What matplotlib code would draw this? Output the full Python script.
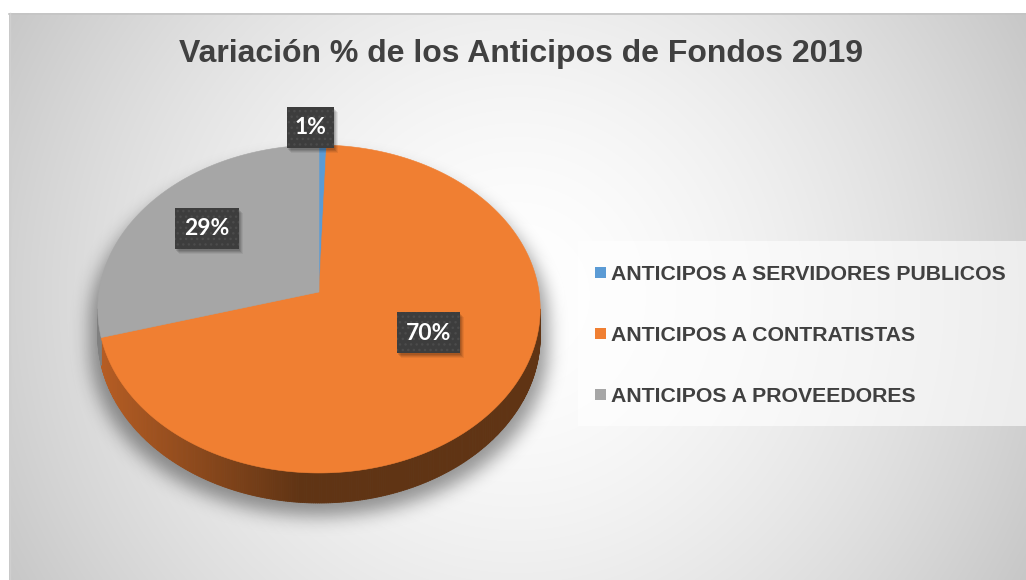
import numpy as np
import matplotlib
matplotlib.use('Agg')
import matplotlib.pyplot as plt
from matplotlib.patches import Polygon, Rectangle
from matplotlib.collections import PolyCollection
from matplotlib.path import Path

# ---------------- data ----------------
categories = ["ANTICIPOS A SERVIDORES PUBLICOS", "ANTICIPOS A CONTRATISTAS", "ANTICIPOS A PROVEEDORES"]
values = [0.6, 70.0, 29.4]
colors = ['#5b9bd5', '#f07f32', '#a6a6a6']
title = "Variación % de los Anticipos de Fondos 2019"

# ---------------- figure ----------------
W, H = 1026, 580
fig = plt.figure(figsize=(W / 100, H / 100), dpi=100)
fig.patch.set_facecolor('white')
ax = fig.add_axes([0, 0, 1, 1])
ax.axis('off')

# chart-area radial gradient background
x0c, y0c = 9, 13
yy, xx = np.mgrid[y0c:H, x0c:W] + 0.5
r = np.hypot(xx - 517, yy - 296) / 590
g = (255 - 57 * np.clip(r, 0, 1.2) ** 1.6) / 255
ax.imshow(np.dstack([g, g, g]), extent=(x0c, W, H, y0c), zorder=0, interpolation='bilinear')
ax.plot([x0c, W], [y0c + 0.5, y0c + 0.5], color='#c4c4c4', lw=1.2, zorder=0.5)
ax.plot([x0c + 0.5, x0c + 0.5], [y0c, H], color='#cfcfcf', lw=1.0, zorder=0.5)

# ---------------- 3D pie geometry ----------------
cx, cy, A, B, k, T = 319, 292, 220, 162.2, 0.1037, 26.9


def proj(theta_deg, depth=0.0):
    t = np.radians(theta_deg)
    X, Z = np.sin(t), np.cos(t)
    w = 1 + k * Z
    return cx + A * X / w, cy - B * Z / w + T * depth / w


vals = np.asarray(values, dtype=float)
bounds = np.concatenate([[0], np.cumsum(vals)]) / vals.sum() * 360.0
sil = np.degrees(np.arccos(-k))          # right silhouette angle (~96 deg)
left_sil = 360 - sil

# shadow (blurred silhouette)
th_back = np.linspace(left_sil, 360 + sil, 300)
th_front = np.linspace(sil, left_sil, 300)
bx, by = proj(th_back, 0)
fx, fy = proj(th_front, 1)
sx_ = np.concatenate([bx, fx])
sy_ = np.concatenate([by, fy])
sx_ = cx + (sx_ - cx) * 1.035
sy_ = sy_ + 13
path = Path(np.column_stack([sx_, sy_]))
gy, gx = np.mgrid[0:H, 0:W] + 0.5
mask = path.contains_points(np.column_stack([gx.ravel(), gy.ravel()])).reshape(H, W).astype(float)


def blur(a, s):
    n = int(3 * s)
    kk = np.exp(-0.5 * (np.arange(-n, n + 1) / s) ** 2)
    kk /= kk.sum()
    a = np.apply_along_axis(lambda m: np.convolve(m, kk, mode='same'), 0, a)
    a = np.apply_along_axis(lambda m: np.convolve(m, kk, mode='same'), 1, a)
    return a


sh = blur(mask, 9)
shadow = np.zeros((H, W, 4))
shadow[..., 3] = 0.40 * sh
ax.imshow(shadow, extent=(0, W, H, 0), zorder=1, interpolation='bilinear')


def side_color(i, x):
    if i == 1:
        t = np.clip((x - 100) / 200.0, 0, 1)
        c0 = np.array([182, 93, 36]) / 255
        c1 = np.array([96, 52, 20]) / 255
        return tuple(c0 * (1 - t) + c1 * t)
    if i == 2:
        return (0.50, 0.50, 0.50)
    return (0.25, 0.42, 0.58)


# side walls (front visible part)
quads, qcols = [], []
for i in range(len(vals)):
    a0, a1 = bounds[i], bounds[i + 1]
    lo, hi = max(a0, sil), min(a1, left_sil)
    if hi <= lo:
        continue
    ts = np.linspace(lo, hi, max(int((hi - lo) * 2), 2))
    for t0, t1 in zip(ts[:-1], ts[1:]):
        x0, y0 = proj(t0, 0)
        x1, y1 = proj(t1, 0)
        x2, y2 = proj(t1, 1)
        x3, y3 = proj(t0, 1)
        quads.append([(x0, y0), (x1, y1), (x2, y2), (x3, y3)])
        qcols.append(side_color(i, (x0 + x1) / 2))
ax.add_collection(PolyCollection(quads, facecolors=qcols, edgecolors=qcols, linewidths=0.6, zorder=2))

# top faces
for i in range(len(vals)):
    ts = np.linspace(bounds[i], bounds[i + 1], max(int((bounds[i + 1] - bounds[i]) * 2), 3))
    px, py = proj(ts, 0)
    pts = np.column_stack([np.concatenate([[cx], px]), np.concatenate([[cy], py])])
    ax.add_patch(Polygon(pts, closed=True, facecolor=colors[i], edgecolor=colors[i], lw=0.4, zorder=3))

# ---------------- data labels ----------------
label_pos = [(310.5, 127.5), (428.5, 332.5), (207, 228)]
box_w = [47, 63, 64]
box_h = 41
for i, v in enumerate(vals):
    lx, ly = label_pos[i]
    bw = box_w[i]
    for o, a in [(5, 0.06), (4, 0.08), (3, 0.10), (2, 0.10)]:
        ax.add_patch(Rectangle((lx - bw / 2 + o - 1, ly - box_h / 2 + o), bw, box_h,
                               facecolor='black', alpha=a, lw=0, zorder=4))
    ax.add_patch(Rectangle((lx - bw / 2, ly - box_h / 2), bw, box_h, facecolor='#3d3d3d',
                           edgecolor='#4b4b4b', hatch='...', lw=0, zorder=5))
    pct = v / vals.sum() * 100
    ax.text(lx, ly + 0.5, f"{int(np.floor(pct + 0.5))}%", color='white', fontsize=16.5,
            fontweight='bold', family='Lato', ha='center', va='center', zorder=6)

# ---------------- legend ----------------
ax.add_patch(Rectangle((578, 241), W - 578, 185, facecolor='white', alpha=0.62, lw=0, zorder=3))
row_y = [272.3, 333.3, 394.5]
for i, name in enumerate(categories):
    ax.add_patch(Rectangle((595, row_y[i] - 5.3), 10.6, 10.6, facecolor=colors[i], lw=0, zorder=4))
    ax.text(611, row_y[i] + 7.4, name, color='#404040', fontsize=15.3, fontweight='bold',
            family='Liberation Sans', ha='left', va='baseline', zorder=4)

# ---------------- title ----------------
ax.text(521, 62.3, title, color='#404040', fontsize=23.0, fontweight='bold',
        family='Liberation Sans', ha='center', va='baseline', zorder=4)

ax.set_xlim(0, W)
ax.set_ylim(H, 0)
ax.set_aspect('auto')
fig.savefig('out.png', dpi=100)
